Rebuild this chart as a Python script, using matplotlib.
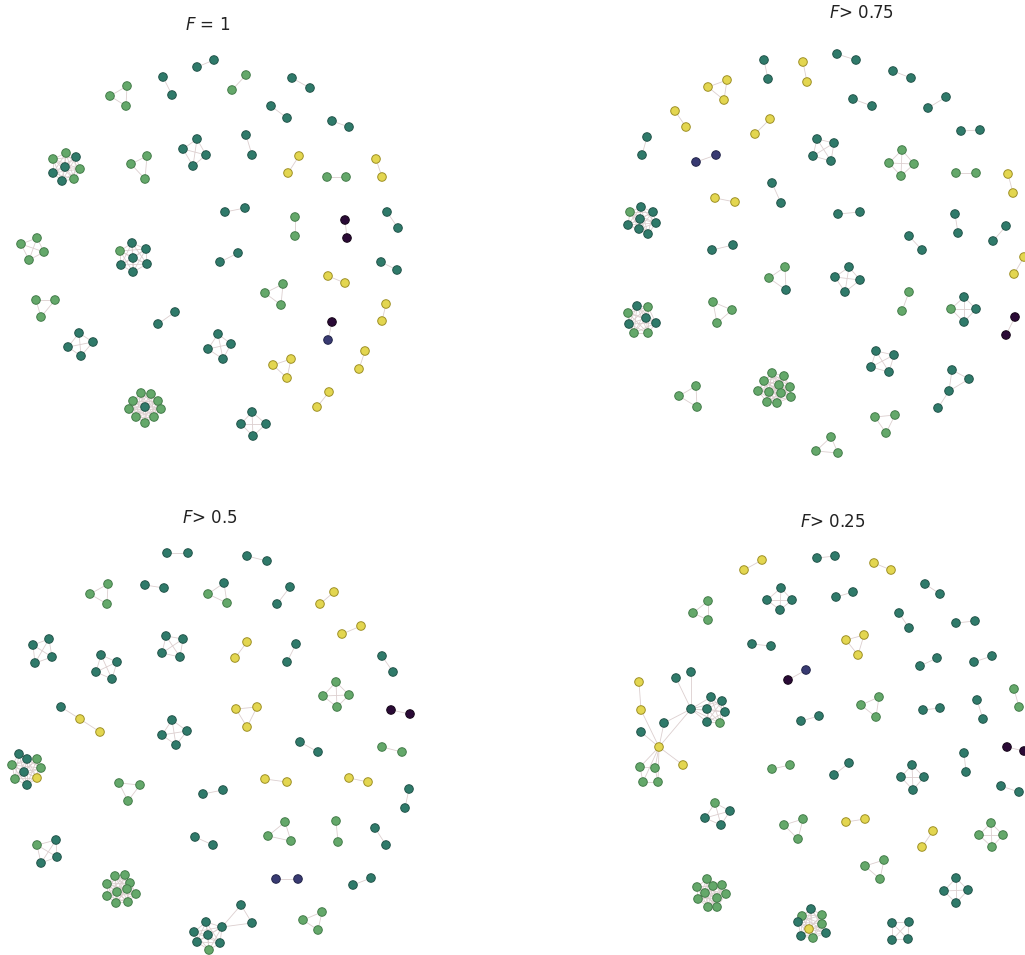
import matplotlib
matplotlib.use("Agg")
import matplotlib.pyplot as plt
from itertools import combinations

# node colour classes (viridis-like): p=purple, b=blue, t=teal, g=green, y=yellow
face = {'p': '#2a0a36', 'b': '#383a72', 't': '#2f7a6a', 'g': '#64a86a', 'y': '#e3d650'}
edge = {'p': '#150518', 'b': '#22244a', 't': '#22544a', 'g': '#447c4a', 'y': '#9e9025'}

titles = ['$F$ = 1', '$F$> 0.75', '$F$> 0.5', '$F$> 0.25']
title_xy = [(208, 25), (862, 13), (210, 518), (833, 522)]

# components: (colours, node positions in layout px, optional edge list; default = complete)
comp_f1 = [
    ("tt", [(197, 67), (214, 60)]),
    ("tt", [(163, 77), (172, 95)]),
    ("ggg", [(110, 96), (127, 86), (126, 106)]),
    ("gg", [(232, 90), (246, 75)]),
    ("tt", [(292, 78), (310, 88)]),
    ("tt", [(271, 106), (287, 118)]),
    ("tt", [(332, 121), (349, 127)]),
    ("gtgtgttg", [(66, 153), (76, 157), (53, 159), (65, 167), (80, 169), (53, 173), (62, 181), (74, 179)]),
    ("ggg", [(131, 164), (147, 156), (145, 179)]),
    ("tttt", [(197, 139), (183, 149), (206, 155), (193, 166)]),
    ("tt", [(246, 135), (252, 155)]),
    ("yy", [(299, 156), (288, 173)]),
    ("yy", [(376, 159), (382, 177)]),
    ("gg", [(327, 177), (346, 177)]),
    ("tt", [(225, 212), (245, 208)]),
    ("gg", [(295, 217), (295, 236)]),
    ("pp", [(345, 220), (347, 238)]),
    ("tt", [(387, 212), (398, 228)]),
    ("gggg", [(37, 238), (21, 244), (44, 252), (29, 260)]),
    ("ttgtttt", [(132, 243), (146, 249), (120, 251), (133, 258), (147, 264), (121, 265), (133, 272)]),
    ("tt", [(220, 262), (238, 253)]),
    ("tt", [(381, 262), (397, 270)]),
    ("ggg", [(265, 293), (283, 284), (281, 305)]),
    ("yy", [(328, 276), (345, 283)]),
    ("ggg", [(36, 300), (55, 300), (41, 317)]),
    ("tt", [(158, 324), (175, 312)]),
    ("yy", [(386, 304), (382, 321)]),
    ("pb", [(332, 322), (328, 340)]),
    ("tttt", [(79, 333), (68, 347), (93, 342), (81, 356)]),
    ("tttt", [(218, 334), (208, 349), (231, 344), (223, 359)]),
    ("yyy", [(273, 365), (291, 359), (287, 378)]),
    ("yy", [(365, 351), (359, 369)]),
    ("yy", [(329, 392), (317, 407)]),
    ("gggggtgggg", [(141, 393), (151, 394), (133, 401), (158, 401), (129, 409), (145, 407),
                    (161, 409), (136, 417), (154, 417), (145, 423)]),
    ("tttt", [(252, 412), (241, 424), (266, 424), (253, 436)]),
]

comp_f075 = [
    ("tt", [(764, 60), (768, 79)]),
    ("yy", [(803, 62), (807, 82)]),
    ("tt", [(837, 54), (856, 60)]),
    ("tt", [(893, 71), (911, 78)]),
    ("yyy", [(708, 87), (727, 80), (724, 100)]),
    ("yy", [(675, 111), (686, 127)]),
    ("tt", [(853, 99), (872, 106)]),
    ("tt", [(928, 108), (946, 97)]),
    ("yy", [(755, 134), (770, 119)]),
    ("tt", [(961, 131), (980, 130)]),
    ("tt", [(647, 137), (642, 155)]),
    ("bb", [(696, 162), (716, 155)]),
    ("tttt", [(817, 139), (834, 143), (813, 156), (831, 161)]),
    ("gggg", [(902, 150), (889, 163), (914, 164), (901, 176)]),
    ("gg", [(956, 173), (976, 173)]),
    ("yy", [(1008, 174), (1013, 193)]),
    ("tt", [(772, 183), (781, 203)]),
    ("yy", [(715, 198), (735, 202)]),
    ("tt", [(838, 214), (860, 212)]),
    ("tt", [(955, 214), (958, 233)]),
    ("tgtttttt", [(641, 207), (630, 212), (653, 212), (640, 219), (656, 223), (628, 225), (639, 229), (648, 234)]),
    ("tt", [(909, 236), (922, 250)]),
    ("tt", [(1006, 226), (993, 241)]),
    ("tt", [(712, 250), (733, 245)]),
    ("ggt", [(769, 278), (785, 267), (786, 290)]),
    ("tttt", [(849, 267), (835, 277), (860, 280), (845, 292)]),
    ("yy", [(1024, 257), (1014, 274)]),
    ("gg", [(909, 292), (902, 311)]),
    ("tgtt", [(964, 297), (951, 309), (976, 309), (964, 322)]),
    ("pp", [(1015, 317), (1006, 335)]),
    ("tggtttgg", [(637, 306), (648, 307), (628, 313), (646, 318), (656, 323), (629, 324), (634, 333), (648, 333)]),
    ("ggg", [(713, 302), (732, 310), (717, 323)]),
    ("tttt", [(876, 351), (894, 355), (871, 367), (889, 372)]),
    ("tttt", [(952, 370), (969, 379), (949, 391), (938, 408)], [(0, 1), (0, 2), (1, 2), (2, 3)]),
    ("ggg", [(679, 396), (696, 386), (697, 407)]),
    ("ggggggggggg", [(772, 373), (784, 376), (764, 381), (779, 385), (790, 387), (758, 391),
                     (769, 392), (781, 393), (791, 397), (767, 402), (777, 403)]),
    ("ggg", [(875, 417), (895, 415), (886, 433)]),
    ("ggg", [(831, 437), (816, 451), (838, 453)]),
]

comp_f05 = [
    ("tt", [(167, 553), (188, 553)]),
    ("tt", [(247, 556), (267, 561)]),
    ("ggg", [(90, 594), (108, 584), (107, 604)]),
    ("tt", [(145, 585), (164, 588)]),
    ("gtg", [(208, 594), (224, 583), (227, 603)]),
    ("tt", [(290, 587), (277, 604)]),
    ("yy", [(334, 592), (320, 604)]),
    ("yy", [(361, 626), (342, 634)]),
    ("tttt", [(33, 645), (49, 639), (35, 663), (52, 657)]),
    ("tttt", [(101, 655), (117, 662), (96, 672), (112, 679)]),
    ("tttt", [(166, 636), (183, 639), (162, 653), (180, 657)]),
    ("yy", [(247, 642), (235, 658)]),
    ("tt", [(296, 644), (287, 662)]),
    ("tt", [(382, 656), (393, 672)]),
    ("gggg", [(336, 682), (323, 696), (349, 695), (337, 707)]),
    ("pp", [(391, 710), (410, 714)]),
    ("tyy", [(61, 707), (80, 719), (100, 732)], [(0, 1), (1, 2)]),
    ("yyy", [(236, 709), (257, 707), (247, 727)]),
    ("tttt", [(172, 720), (162, 735), (187, 731), (176, 745)]),
    ("tt", [(300, 742), (318, 752)]),
    ("gg", [(382, 747), (402, 752)]),
    ("ttggtggyt", [(19, 754), (27, 759), (37, 759), (12, 765), (24, 772), (41, 768), (15, 779), (37, 778), (27, 785)]),
    ("ggg", [(119, 783), (140, 785), (128, 801)]),
    ("tt", [(203, 794), (223, 790)]),
    ("yy", [(265, 779), (287, 782)]),
    ("yy", [(349, 778), (368, 782)]),
    ("tt", [(409, 789), (405, 808)]),
    ("tgtt", [(56, 840), (37, 845), (57, 857), (41, 863)]),
    ("tt", [(195, 837), (213, 845)]),
    ("ggg", [(285, 822), (268, 836), (291, 841)]),
    ("gg", [(336, 821), (338, 842)]),
    ("tt", [(375, 828), (386, 845)]),
    ("bb", [(276, 879), (298, 879)]),
    ("tt", [(353, 885), (371, 878)]),
    ("gggggggggg", [(115, 876), (125, 875), (107, 884), (130, 883), (117, 892), (127, 889),
                    (136, 894), (107, 896), (116, 903), (128, 902)]),
    ("ttttttttg", [(241, 905), (252, 923), (222, 927), (206, 922), (194, 932), (208, 935),
                   (220, 943), (197, 942), (209, 950)],
     [(0, 1), (0, 2), (1, 2)] + [(i, j) for i, j in combinations(range(2, 9), 2)]),
    ("ggg", [(322, 912), (303, 920), (318, 930)]),
]

hub_edges = [(4, 1), (4, 2), (4, 5), (4, 7), (4, 13), (4, 14), (4, 15), (4, 16), (4, 17), (4, 18),
             (0, 3), (3, 7), (7, 5), (7, 6), (7, 8), (7, 9), (7, 10), (7, 11), (7, 12),
             (9, 10), (9, 11), (10, 12), (11, 12)] + \
            [(i, j) for i, j in combinations(range(13, 19), 2)]

comp_f025 = [
    ("yy", [(762, 560), (744, 570)]),
    ("tt", [(817, 558), (835, 556)]),
    ("yy", [(874, 563), (891, 570)]),
    ("tt", [(925, 584), (940, 594)]),
    ("ggg", [(708, 601), (693, 613), (708, 620)]),
    ("tttt", [(781, 588), (767, 600), (792, 600), (780, 610)]),
    ("tt", [(836, 597), (853, 592)]),
    ("tt", [(899, 613), (909, 628)]),
    ("tt", [(956, 623), (975, 621)]),
    ("tt", [(752, 644), (771, 646)]),
    ("yyy", [(846, 640), (864, 635), (858, 655)]),
    ("tt", [(920, 666), (937, 658)]),
    ("tt", [(974, 662), (992, 656)]),
    ("pb", [(788, 680), (806, 670)]),
    ("yttytttyygggg" + "tttttg",
     [(639, 682), (676, 678), (691, 672), (641, 710), (691, 709), (664, 723), (641, 732),
      (659, 747), (683, 765), (640, 767), (655, 768), (643, 782), (658, 782),
      (711, 697), (722, 701), (707, 709), (725, 712), (707, 722), (720, 723)], hub_edges),
    ("tt", [(801, 721), (819, 716)]),
    ("ggg", [(879, 697), (861, 705), (876, 717)]),
    ("tt", [(923, 710), (940, 708)]),
    ("tt", [(977, 700), (983, 719)]),
    ("gg", [(1014, 689), (1019, 707)]),
    ("pp", [(1007, 747), (1024, 751)]),
    ("gg", [(772, 769), (790, 765)]),
    ("tt", [(834, 775), (849, 763)]),
    ("tttt", [(912, 765), (901, 777), (924, 777), (913, 790)]),
    ("tt", [(964, 753), (966, 772)]),
    ("tt", [(1001, 786), (1019, 792)]),
    ("gttt", [(715, 803), (705, 818), (730, 811), (721, 825)]),
    ("ggg", [(803, 819), (784, 825), (798, 839)]),
    ("yy", [(846, 822), (865, 819)]),
    ("yy", [(933, 831), (922, 847)]),
    ("gggg", [(991, 823), (979, 835), (1003, 835), (992, 847)]),
    ("ggg", [(884, 860), (865, 866), (880, 879)]),
    ("tttt", [(956, 878), (944, 891), (968, 890), (956, 903)]),
    ("gggggggggg", [(707, 879), (697, 887), (713, 886), (722, 885), (705, 893), (726, 894),
                    (698, 899), (717, 898), (708, 907), (717, 907)]),
    ("tggtygtgt", [(811, 909), (802, 916), (822, 915), (798, 922), (809, 929), (822, 924),
                   (801, 936), (813, 938), (826, 933)]),
    ("tttt", [(892, 923), (909, 922), (892, 940), (908, 939)]),
]

fig = plt.figure(figsize=(10.25, 9.55), dpi=100)
ax = fig.add_axes([0, 0, 1, 1])
ax.set_xlim(0, 1025)
ax.set_ylim(955, 0)
ax.axis('off')

for comps in [comp_f1, comp_f075, comp_f05, comp_f025]:
    for c in comps:
        cols, pts = c[0], c[1]
        edges = c[2] if len(c) > 2 else list(combinations(range(len(pts)), 2))
        for i, j in edges:
            ax.plot([pts[i][0], pts[j][0]], [pts[i][1], pts[j][1]],
                    color='#dccfcf', lw=0.6, zorder=1)
        ax.scatter([p[0] for p in pts], [p[1] for p in pts], s=38,
                   c=[face[k] for k in cols], edgecolors=[edge[k] for k in cols],
                   linewidths=0.7, zorder=2)

for t, (x, y) in zip(titles, title_xy):
    ax.text(x, y, t, fontsize=12, ha='center', va='center', color='#222222')

fig.savefig('out.png', dpi=100)
